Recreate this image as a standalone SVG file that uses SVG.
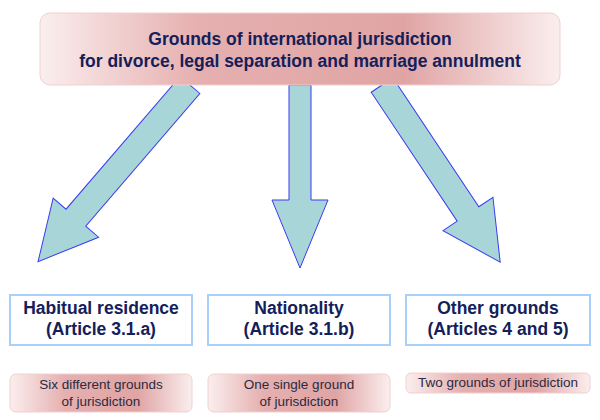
<svg xmlns="http://www.w3.org/2000/svg" width="600" height="420" viewBox="0 0 600 420">
<style>
.t{font-family:"Liberation Sans",Arial,sans-serif;fill:#14205a;text-anchor:middle}
.h{font-size:17.5px;font-weight:bold}
.s{font-size:13.5px;fill:#2a2a40}
.bx{fill:#fff;stroke:#a8d0fa;stroke-width:2}
.pk{fill:url(#pg);stroke:#f0d0d0;stroke-width:1}
.ar{fill:#a8d6d8;stroke:#3a3af0;stroke-width:1}
</style>
<defs>
<linearGradient id="pg" x1="0" x2="1" y1="0" y2="0">
<stop offset="0" stop-color="#fbeeee"/><stop offset="0.3" stop-color="#e6b0b0"/><stop offset="0.7" stop-color="#e0a4a4"/><stop offset="1" stop-color="#fbeeee"/>
</linearGradient>
</defs>
<g id="connectors">
<polygon class="ar" transform="translate(190,85) rotate(40.7)" points="-13,0 13,0 13,175 30,175 0,233 -30,175 -13,175"/>
<polygon class="ar" transform="translate(300,85)" points="-11,0 11,0 11,115 28,115 0,183 -28,115 -11,115"/>
<polygon class="ar" transform="translate(382,85) rotate(-33.7)" points="-13,0 13,0 13,155 30,155 0,213 -30,155 -13,155"/>
</g>
<g id="top"><rect class="pk" x="40" y="13" width="520" height="72" rx="10"/>
<text class="t h" x="300" y="45">Grounds of international jurisdiction</text>
<text class="t h" x="300" y="67">for divorce, legal separation and marriage annulment</text></g>
<g id="habitual"><rect class="bx" x="10" y="295" width="182" height="50"/>
<text class="t h" x="101" y="314">Habitual residence</text><text class="t h" x="101" y="335">(Article 3.1.a)</text></g>
<g id="nationality"><rect class="bx" x="208" y="295" width="182" height="50"/>
<text class="t h" x="299" y="314">Nationality</text><text class="t h" x="299" y="335">(Article 3.1.b)</text></g>
<g id="other"><rect class="bx" x="406" y="295" width="184" height="50"/>
<text class="t h" x="498" y="314">Other grounds</text><text class="t h" x="498" y="335">(Articles 4 and 5)</text></g>
<g id="six"><rect class="pk" x="10" y="374" width="182" height="38" rx="6"/>
<text class="t s" x="101" y="389">Six different grounds</text><text class="t s" x="101" y="406">of jurisdiction</text></g>
<g id="one"><rect class="pk" x="208" y="374" width="182" height="38" rx="6"/>
<text class="t s" x="299" y="389">One single ground</text><text class="t s" x="299" y="406">of jurisdiction</text></g>
<g id="two"><rect class="pk" x="406" y="373" width="184" height="20" rx="5"/>
<text class="t s" x="498" y="387">Two grounds  of jurisdiction</text></g>
</svg>
